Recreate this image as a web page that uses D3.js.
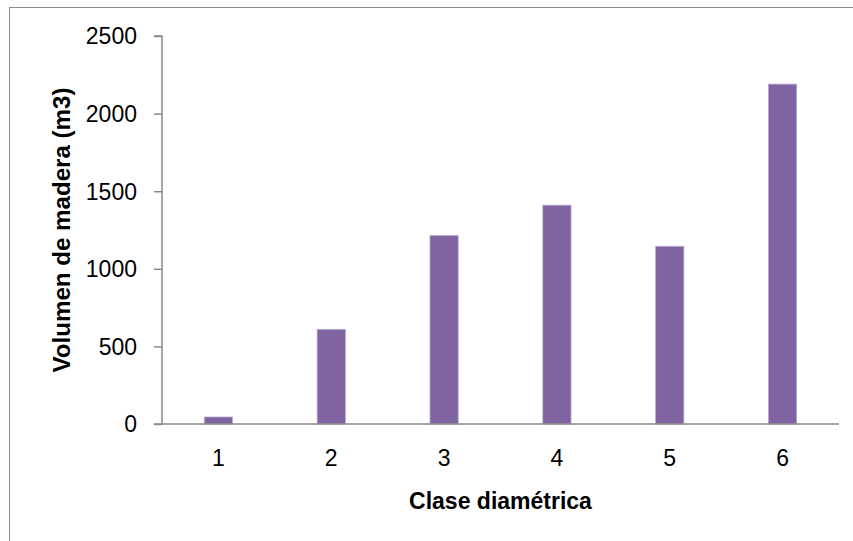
<!DOCTYPE html>
<html>
<head>
<meta charset="utf-8">
<script src="https://cdn.jsdelivr.net/npm/d3@7"></script>
<style>
    body { margin: 0; background: #fff; }
    svg text { font-family: "Liberation Sans", Arial, sans-serif; fill: #000; }
</style>
</head>
<body>
<div id="chart"></div>
<script>
// chart data
const categories = ["1", "2", "3", "4", "5", "6"];
const volumes = [45, 610, 1215, 1410, 1145, 2190];
const yTicks = [0, 500, 1000, 1500, 2000, 2500];

const width = 853, height = 541;
const margin = {top: 36, right: 14, bottom: 117, left: 162};

const svg = d3.select("#chart").append("svg")
    .attr("width", width)
    .attr("height", height);

// outer chart border (only top and left are inside the picture)
svg.append("rect")
    .attr("x", 9.5)
    .attr("y", 7.5)
    .attr("width", 900)
    .attr("height", 600)
    .attr("fill", "none")
    .attr("stroke", "#8c8c8c")
    .attr("stroke-width", 1);

const x = d3.scaleBand()
    .domain(categories)
    .range([margin.left, width - margin.right])
    .paddingInner(0.75)
    .paddingOuter(0.375);

const y = d3.scaleLinear()
    .domain([0, 2500])
    .range([height - margin.bottom, margin.top]);

// bars
svg.selectAll(".bar")
    .data(volumes)
    .enter()
    .append("rect")
    .attr("class", "bar")
    .attr("x", (d, i) => x(categories[i]))
    .attr("y", d => y(d))
    .attr("width", x.bandwidth())
    .attr("height", d => y(0) - y(d))
    .attr("fill", "#8064a2")
    .attr("stroke", "#b9a9cf")
    .attr("stroke-width", 0.8);

// y axis
const yAxis = svg.append("g")
    .attr("transform", "translate(" + margin.left + ",0)")
    .call(d3.axisLeft(y).tickValues(yTicks).tickFormat(d3.format("d"))
        .tickSize(8).tickSizeOuter(8).tickPadding(17));
yAxis.selectAll("path, line").attr("stroke", "#898989").attr("stroke-width", 1.5);
yAxis.select(".domain").attr("d", "M-8," + y(2500) + "H0V" + y(0));
yAxis.selectAll("text").attr("font-size", 23).attr("dy", "0.34em");

// x axis
const xAxis = svg.append("g")
    .attr("transform", "translate(0," + y(0) + ")")
    .call(d3.axisBottom(x).tickSize(0).tickPadding(26));
xAxis.select(".domain")
    .attr("d", "M" + (margin.left - 8) + ",0H" + (width - margin.right))
    .attr("stroke", "#898989").attr("stroke-width", 1.5);
xAxis.selectAll("text").attr("font-size", 23);

// axis titles
svg.append("text")
    .attr("x", (margin.left + width - margin.right) / 2)
    .attr("y", 509)
    .attr("text-anchor", "middle")
    .attr("font-size", 23)
    .attr("font-weight", "bold")
    .text("Clase diamétrica");

svg.append("text")
    .attr("transform", "translate(70," + (y(0) + y(2500)) / 2 + ") rotate(-90)")
    .attr("text-anchor", "middle")
    .attr("font-size", 24)
    .attr("font-weight", "bold")
    .attr("textLength", 285)
    .attr("lengthAdjust", "spacingAndGlyphs")
    .text("Volumen de madera (m3)");
</script>
</body>
</html>
